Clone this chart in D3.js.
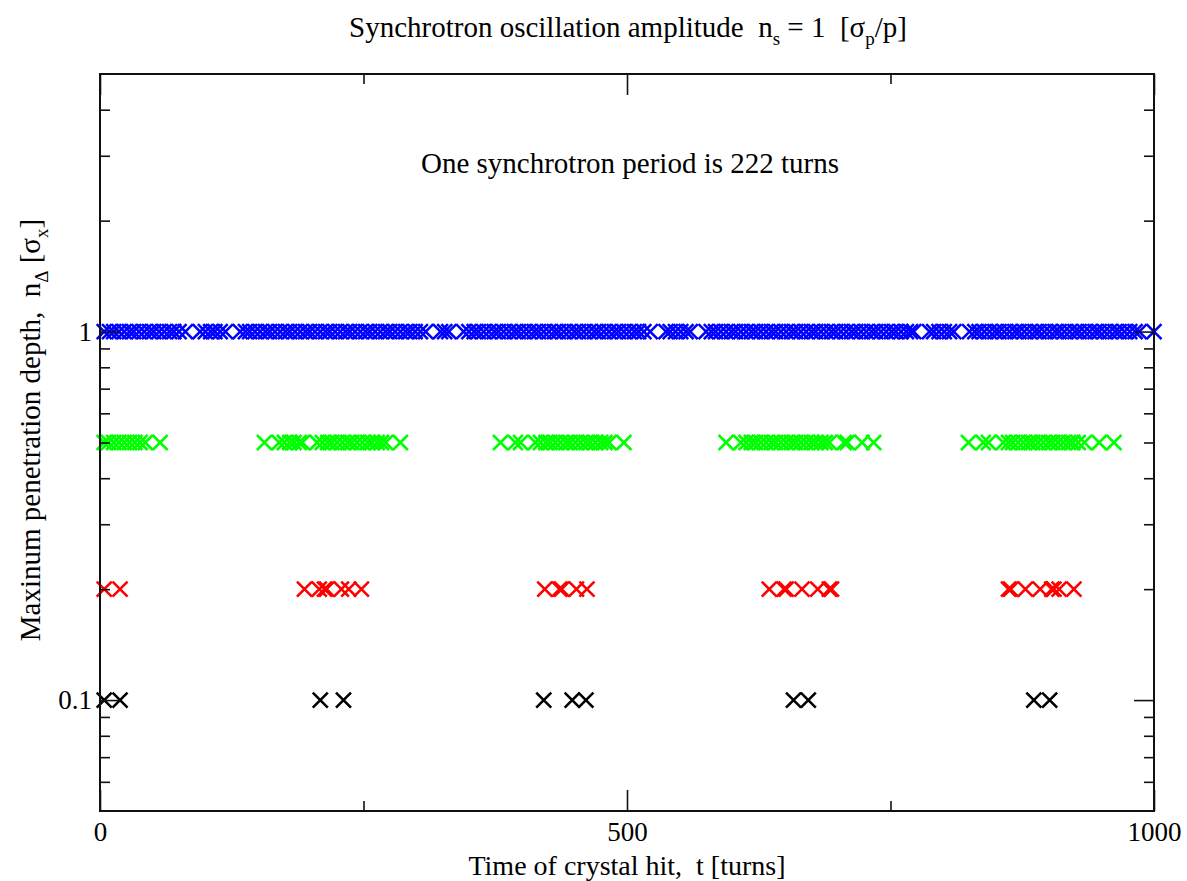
<!DOCTYPE html>
<html>
<head>
<meta charset="utf-8">
<script src="https://cdn.jsdelivr.net/npm/d3@7/dist/d3.min.js"></script>
<style>
  html, body { margin: 0; padding: 0; background: #fff; }
  svg { display: block; }
  text { font-family: "Liberation Serif", "Times New Roman", serif; fill: #000; white-space: pre; }
</style>
</head>
<body>
<svg id="chart" width="1187" height="881"></svg>
<script>
// ---------------- data (turn numbers of crystal hits per penetration depth) ----------------
const depthLevels = [1, 0.5, 0.2, 0.1];
const seriesColors = ["#0000ff", "#00ff00", "#ff0000", "#000000"];

const hitsDepth1 = [
  4, 9, 13, 18, 23, 28, 32, 37, 42, 47, 51, 56, 61, 66, 70, 75, 81,
  95, 100, 105, 109, 114, 119,
  133, 138, 142, 147, 152, 157, 161, 166, 171, 176, 180, 185, 190, 195, 199, 204, 209, 214, 218, 223,
  228, 233, 237, 242, 247, 252, 256, 261, 266, 271, 275, 280, 285, 290, 294, 299, 304, 309,
  323, 327, 331,
  345, 350, 355, 359, 364, 369, 374, 378, 383, 388, 393, 397, 402, 407, 412, 416, 421, 426, 431, 435,
  440, 445, 450, 454, 459, 464, 469, 473, 478, 483, 488, 492, 497, 502, 507, 511, 516, 522,
  537, 541, 546, 551, 556, 560,
  575, 580, 584, 589, 594, 599, 603, 608, 613, 618, 622, 627, 632, 637, 641, 646, 651, 656, 660, 665,
  670, 675, 679, 684, 689, 694, 698, 703, 708, 713, 717, 722, 727, 732, 736, 741, 746, 751, 755, 760,
  765, 769, 772,
  787, 791, 796, 801, 806, 810,
  825, 830, 834, 839, 844, 849, 853, 858, 863, 868, 872, 877, 882, 887, 891, 896, 901, 906, 910, 915,
  920, 925, 929, 934, 939, 944, 948, 953, 958, 963, 967, 972, 977, 982, 986,
  1000
];
const hitsDepth05 = [
  4, 8, 13, 18, 23, 28, 33, 38, 43, 57,
  156, 170, 175, 180, 184, 189, 192, 206, 211, 216, 220, 225, 230, 235, 239, 244, 249, 254, 258, 263, 267, 271, 285,
  380, 394, 399, 413, 418, 423, 427, 432, 437, 442, 446, 451, 456, 461, 465, 470, 475, 479, 483, 497,
  594, 608, 613, 618, 622, 627, 632, 637, 641, 646, 651, 656, 660, 665, 670, 675, 679, 684, 688, 692, 706, 709, 723, 734,
  824, 838, 843, 857, 862, 866, 871, 876, 881, 885, 890, 895, 900, 904, 909, 914, 919, 923, 928, 934, 948, 962
];
const hitsDepth02 = [
  4, 19,
  194, 208, 213, 215, 229, 236, 248,
  422, 436, 438, 452, 462,
  635, 649, 651, 666, 681, 692, 694,
  862, 864, 878, 892, 903, 905, 910, 924
];
const hitsDepth01 = [
  4, 19,
  209, 231,
  421, 448, 461,
  658, 672,
  886, 901
];
const hitSeries = [hitsDepth1, hitsDepth05, hitsDepth02, hitsDepth01];

const xMajorTicks = [0, 500, 1000];
const xMinorTicks = [250, 750];
const yMajorTicks = [0.1, 1];
const yMinorTicks = [0.06, 0.07, 0.08, 0.09, 0.2, 0.3, 0.4, 0.5, 0.6, 0.7, 0.8, 0.9, 2, 3, 4];
const xDomain = [0, 1000];
const yDomain = [0.05, 5];

// ---------------- layout ----------------
const plot = { left: 100, right: 1154, top: 74, bottom: 811 };
const svg = d3.select("#chart");

const x = d3.scaleLinear().domain(xDomain).range([plot.left, plot.right]);
const y = d3.scaleLog().domain(yDomain).range([plot.bottom, plot.top]);

const W = plot.right - plot.left, H = plot.bottom - plot.top;
const fontSize = 29;
const tickFont = 27;
const subSize = 19;

// ---------------- markers ----------------
const half = 7.5;
function xMark(cx, cy) {
  const p = d3.path();
  p.moveTo(cx - half, cy - half); p.lineTo(cx + half, cy + half);
  p.moveTo(cx - half, cy + half); p.lineTo(cx + half, cy - half);
  return p.toString();
}
const marks = svg.append("g");
hitSeries.forEach((hits, i) => {
  const yy = y(depthLevels[i]);
  marks.append("g")
    .attr("stroke", seriesColors[i])
    .attr("stroke-width", 2.6)
    .attr("fill", "none")
    .selectAll("path")
    .data(hits)
    .join("path")
    .attr("d", d => xMark(x(d), yy));
});

// ---------------- axes (ticks pointing inward) ----------------
function styleAxis(g) {
  g.select(".domain").remove();
  g.selectAll(".tick line").attr("stroke", "#111").attr("stroke-width", 1.6);
  g.selectAll(".tick text").attr("font-size", tickFont).attr("font-family", "Liberation Serif, Times New Roman, serif").attr("fill", "#000");
}
const noLabel = () => "";

svg.append("g").attr("transform", `translate(0,${plot.bottom})`)
  .call(d3.axisBottom(x).tickValues(xMajorTicks).tickSizeInner(-21).tickSizeOuter(0).tickPadding(11).tickFormat(d3.format("d")))
  .call(styleAxis);
svg.append("g").attr("transform", `translate(0,${plot.bottom})`)
  .call(d3.axisBottom(x).tickValues(xMinorTicks).tickSizeInner(-10).tickSizeOuter(0).tickFormat(noLabel))
  .call(styleAxis);
svg.append("g").attr("transform", `translate(0,${plot.top})`)
  .call(d3.axisTop(x).tickValues(xMajorTicks).tickSizeInner(-21).tickSizeOuter(0).tickFormat(noLabel))
  .call(styleAxis);
svg.append("g").attr("transform", `translate(0,${plot.top})`)
  .call(d3.axisTop(x).tickValues(xMinorTicks).tickSizeInner(-10).tickSizeOuter(0).tickFormat(noLabel))
  .call(styleAxis);

svg.append("g").attr("transform", `translate(${plot.left},0)`)
  .call(d3.axisLeft(y).tickValues(yMajorTicks).tickSizeInner(-20).tickSizeOuter(0).tickPadding(8).tickFormat(d3.format("~g")))
  .call(styleAxis);
svg.append("g").attr("transform", `translate(${plot.left},0)`)
  .call(d3.axisLeft(y).tickValues(yMinorTicks).tickSizeInner(-10).tickSizeOuter(0).tickFormat(noLabel))
  .call(styleAxis);
svg.append("g").attr("transform", `translate(${plot.right},0)`)
  .call(d3.axisRight(y).tickValues(yMajorTicks).tickSizeInner(-20).tickSizeOuter(0).tickFormat(noLabel))
  .call(styleAxis);
svg.append("g").attr("transform", `translate(${plot.right},0)`)
  .call(d3.axisRight(y).tickValues(yMinorTicks).tickSizeInner(-10).tickSizeOuter(0).tickFormat(noLabel))
  .call(styleAxis);

// frame
svg.append("rect")
  .attr("x", plot.left).attr("y", plot.top).attr("width", W).attr("height", H)
  .attr("fill", "none").attr("stroke", "#111").attr("stroke-width", 2);

// ---------------- texts ----------------
const title = svg.append("text")
  .attr("x", 628).attr("y", 37).attr("text-anchor", "middle").attr("font-size", fontSize);
title.append("tspan").text("Synchrotron oscillation amplitude  n");
title.append("tspan").attr("dy", 8).attr("font-size", subSize).text("s");
title.append("tspan").attr("dy", -8).text(" = 1  [σ");
title.append("tspan").attr("dy", 8).attr("font-size", subSize).text("p");
title.append("tspan").attr("dy", -8).text("/p]");

svg.append("text")
  .attr("x", 630).attr("y", 173).attr("text-anchor", "middle").attr("font-size", fontSize)
  .text("One synchrotron period is 222 turns");

svg.append("text")
  .attr("x", 627).attr("y", 875).attr("text-anchor", "middle").attr("font-size", 28)
  .text("Time of crystal hit,  t [turns]");

const ylab = svg.append("text")
  .attr("transform", "translate(40,430) rotate(-90)")
  .attr("text-anchor", "middle").attr("font-size", fontSize);
ylab.append("tspan").text("Maxinum penetration depth,  n");
ylab.append("tspan").attr("dy", 8).attr("font-size", subSize).text("Δ");
ylab.append("tspan").attr("dy", -8).text(" [σ");
ylab.append("tspan").attr("dy", 8).attr("font-size", subSize).text("x");
ylab.append("tspan").attr("dy", -8).text("]");
</script>
</body>
</html>
